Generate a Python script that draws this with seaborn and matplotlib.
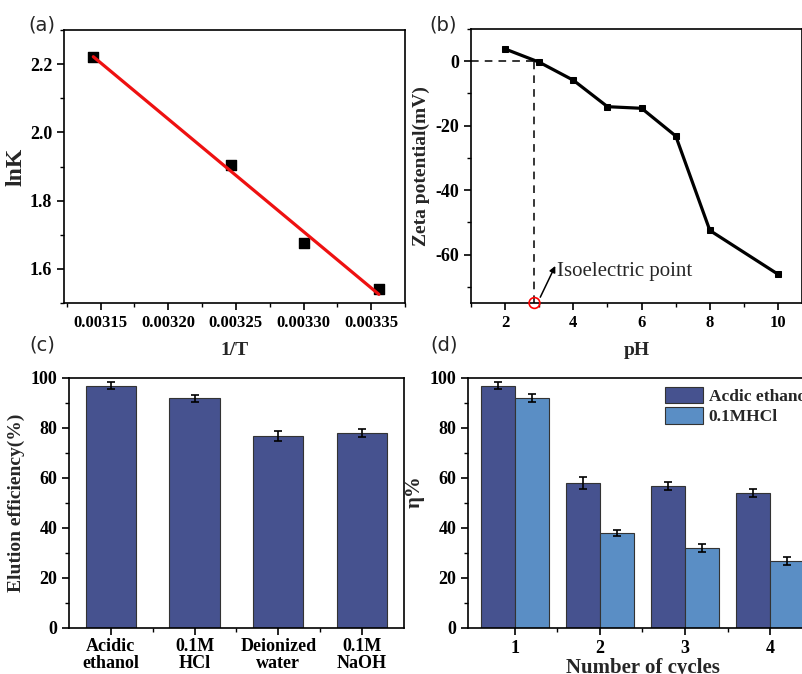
import matplotlib
matplotlib.use("Agg")
import matplotlib.pyplot as plt
import seaborn as sns
import pandas as pd
from matplotlib.ticker import MultipleLocator, FixedLocator

# (a) van't Hoff data
inv_T = [1 / 318, 1 / 308, 1 / 303, 1 / 298]
lnK = [2.22, 1.905, 1.675, 1.54]

# (b) zeta potential vs pH
pH = [2, 3, 4, 5, 6, 7, 8, 10]
zeta = [3.8, -0.3, -5.9, -14.1, -14.6, -23.2, -52.5, -66.1]
iep_pH = 2.86

# (c) elution efficiency of eluents
eluents = ["Acidic\nethanol", "0.1M\nHCl", "Deionized\nwater", "0.1M\nNaOH"]
elution = [97, 92, 77, 78]
elution_err = [1.5, 1.4, 2.0, 1.5]

# (d) reuse cycles
cycles = ["1", "2", "3", "4"]
eta_acid = [97, 58, 57, 54]
eta_acid_err = [1.5, 2.3, 1.6, 1.5]
eta_hcl = [92, 38, 32, 27]
eta_hcl_err = [1.7, 1.2, 1.5, 1.6]
methods = ["Acdic ethanol", "0.1MHCl"]

DARK = "#46528f"
LIGHT = "#5a8ec5"

sns.set_theme(style="ticks")
plt.rcParams["font.family"] = ["Liberation Serif", "DejaVu Serif"]
plt.rcParams.update({
    "font.weight": "bold",
    "axes.labelweight": "bold",
    "axes.unicode_minus": False,
    "axes.linewidth": 1.2,
    "xtick.direction": "out",
    "ytick.direction": "out",
    "xtick.major.size": 5, "ytick.major.size": 5,
    "xtick.minor.size": 3, "ytick.minor.size": 3,
    "xtick.major.width": 1.2, "ytick.major.width": 1.2,
    "xtick.minor.width": 1.0, "ytick.minor.width": 1.0,
    "xtick.labelsize": 12, "ytick.labelsize": 13,
    "axes.labelsize": 14,
    "axes.edgecolor": "black",
    "xtick.color": "black", "ytick.color": "black",
})

fig = plt.figure(figsize=(8.03, 6.74), dpi=100)
W, H = 803, 674


def place(l, t, r, b):
    return fig.add_axes([l / W, 1 - b / H, (r - l) / W, (b - t) / H])


ax_a = place(64, 30, 405, 303)
ax_b = place(471, 29, 802, 303)
ax_c = place(69, 378, 404, 628)
ax_d = place(468, 378, 817, 628)

for ax in (ax_a, ax_b, ax_c, ax_d):
    for s in ax.spines.values():
        s.set_visible(True)
        s.set_linewidth(1.2)

# (a)
sns.regplot(x=inv_T, y=lnK, ax=ax_a, ci=None, marker="s",
            scatter_kws={"color": "black", "s": 45, "alpha": 1, "zorder": 2},
            line_kws={"color": "#ee1111", "lw": 2.3, "zorder": 3})
ax_a.set_xlim(0.003123, 0.003375)
ax_a.set_ylim(1.5, 2.3)
ax_a.xaxis.set_major_locator(MultipleLocator(0.00005))
ax_a.xaxis.set_minor_locator(MultipleLocator(0.000025))
ax_a.yaxis.set_major_locator(MultipleLocator(0.2))
ax_a.yaxis.set_minor_locator(MultipleLocator(0.1))
ax_a.set_xticklabels([f"{v:.5f}" for v in ax_a.get_xticks()])
ax_a.set_xlabel("1/T", labelpad=8)
ax_a.set_ylabel("lnK", fontsize=17, labelpad=2)

# (b)
sns.lineplot(x=pH, y=zeta, ax=ax_b, color="black", lw=2.3, marker="s",
             markersize=5, markeredgecolor="black")
ax_b.set_xlim(1, 10.7)
ax_b.set_ylim(-75, 10)
ax_b.xaxis.set_major_locator(MultipleLocator(2))
ax_b.xaxis.set_minor_locator(MultipleLocator(1))
ax_b.yaxis.set_major_locator(MultipleLocator(20))
ax_b.yaxis.set_minor_locator(MultipleLocator(10))
ax_b.hlines(0, 1, iep_pH, colors="black", linestyles=(0, (5, 4)), lw=1.1)
ax_b.vlines(iep_pH, -75, 0, colors="black", linestyles=(0, (5, 4)), lw=1.1)
ax_b.scatter([iep_pH], [-75], s=60, facecolors="none", edgecolors="red",
             lw=1.2, clip_on=False, zorder=5)
ax_b.annotate("", xy=(3.47, -63.5), xytext=(3.03, -73.2),
              arrowprops=dict(arrowstyle="-|>", color="black", lw=1.1,
                              shrinkA=0, shrinkB=0, mutation_scale=9))
ax_b.text(3.52, -65.3, "Isoelectric point", fontsize=15, fontweight="normal",
          va="center", ha="left")
ax_b.set_xlabel("pH", labelpad=8)
ax_b.set_ylabel("Zeta potential(mV)", labelpad=4)

# (c)
sns.barplot(x=eluents, y=elution, ax=ax_c, color=DARK, saturation=1,
            width=0.6, edgecolor="#333333", linewidth=0.8)
for bar, err in zip(ax_c.patches, elution_err):
    ax_c.errorbar(bar.get_x() + bar.get_width() / 2, bar.get_height(), yerr=err,
                  fmt="none", ecolor="black", elinewidth=1.2, capsize=3, capthick=1.2)
ax_c.set_xlim(-0.5, 3.5)
ax_c.set_ylim(0, 100)
ax_c.yaxis.set_major_locator(MultipleLocator(20))
ax_c.yaxis.set_minor_locator(MultipleLocator(10))
ax_c.xaxis.set_minor_locator(FixedLocator([0.5, 1.5, 2.5]))
ax_c.tick_params(axis="x", labelsize=13, pad=2)
for lab in ax_c.get_xticklabels():
    lab.set_linespacing(1.0)
ax_c.set_ylabel("Elution efficiency(%)", labelpad=4)
ax_c.set_xlabel("")

# (d)
df_d = pd.DataFrame({
    "cycle": cycles * 2,
    "eta": eta_acid + eta_hcl,
    "method": [methods[0]] * len(cycles) + [methods[1]] * len(cycles),
})
sns.barplot(data=df_d, x="cycle", y="eta", hue="method", ax=ax_d,
            palette=[DARK, LIGHT], saturation=1, width=0.8,
            edgecolor="#333333", linewidth=0.8)
for cont, errs in zip(ax_d.containers, [eta_acid_err, eta_hcl_err]):
    for bar, err in zip(cont, errs):
        ax_d.errorbar(bar.get_x() + bar.get_width() / 2, bar.get_height(), yerr=err,
                      fmt="none", ecolor="black", elinewidth=1.2, capsize=3, capthick=1.2)
ax_d.set_xlim(-0.55, 3.55)
ax_d.set_ylim(0, 100)
ax_d.yaxis.set_major_locator(MultipleLocator(20))
ax_d.yaxis.set_minor_locator(MultipleLocator(10))
ax_d.xaxis.set_minor_locator(FixedLocator([0.5, 1.5, 2.5]))
ax_d.tick_params(axis="x", labelsize=13)
ax_d.set_xlabel("Number of cycles", fontsize=15, labelpad=1)
ax_d.set_ylabel("η%", fontsize=15)
ax_d.yaxis.set_label_coords(-0.123, 0.544)
ax_d.legend(title=None, loc="upper left", bbox_to_anchor=(0.54, 1.0),
            frameon=False, handlelength=2.2, handleheight=1.1,
            labelspacing=0.12, handletextpad=0.3, borderaxespad=0.1,
            prop={"weight": "bold", "size": 12.5})

for ax in (ax_a, ax_b, ax_c, ax_d):
    ax.tick_params(which="both", top=False, right=False)
    for lab in ax.get_xticklabels() + ax.get_yticklabels():
        lab.set_fontweight("bold")

# panel letters
for txt, x, y in [("(a)", 42, 25), ("(b)", 443, 25), ("(c)", 42, 345), ("(d)", 444, 345)]:
    fig.text(x / W, 1 - y / H, txt, family="DejaVu Sans", fontweight="normal",
             fontsize=14, ha="center", va="center")

fig.savefig("out.png", dpi=100)
